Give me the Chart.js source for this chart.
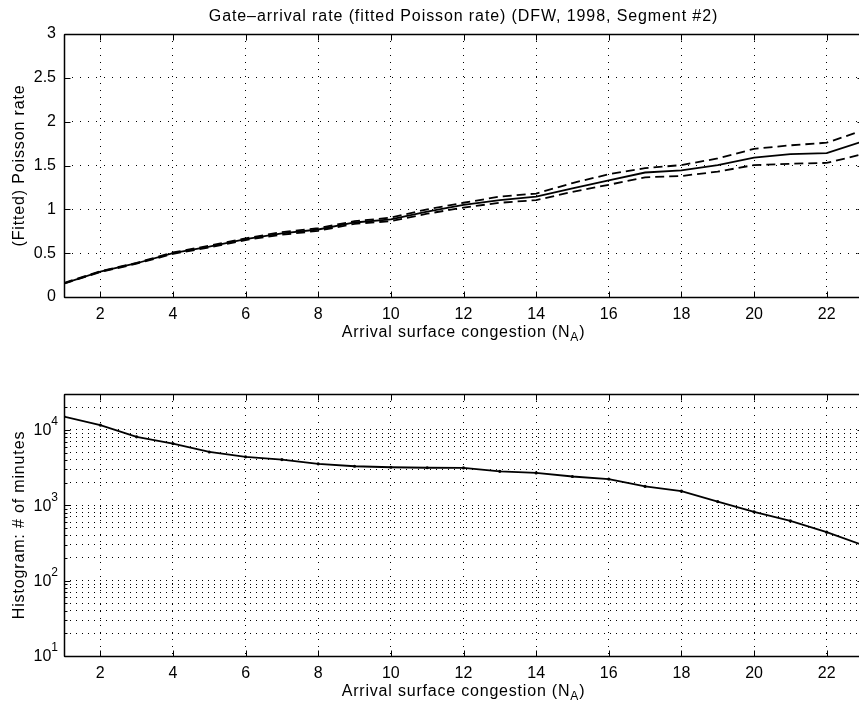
<!DOCTYPE html>
<html>
<head>
<meta charset="utf-8">
<script src="https://cdn.jsdelivr.net/npm/chart.js@4.4.1/dist/chart.umd.min.js"></script>
<style>
  html, body { margin: 0; padding: 0; background: #fff; width: 859px; height: 708px; overflow: hidden; }
  .panel { position: absolute; left: 0; width: 870px; height: 354px; }
  canvas { display: block; }
</style>
</head>
<body>
<div class="panel" style="top:0"><canvas id="rateChart" width="870" height="354"></canvas></div>
<div class="panel" style="top:354px"><canvas id="histChart" width="870" height="354"></canvas></div>
<script>
const FONT = '"Liberation Sans", Arial, Helvetica, sans-serif'

// data
const congestion = [1, 2, 3, 4, 5, 6, 7, 8, 9, 10, 11, 12, 13, 14, 15, 16, 17, 18, 19, 20, 21, 22, 23]
const fittedRate = [0.156, 0.29, 0.385, 0.50, 0.575, 0.66, 0.725, 0.77, 0.85, 0.885, 0.975, 1.05, 1.105, 1.145, 1.24, 1.33, 1.42, 1.445, 1.505, 1.59, 1.63, 1.64, 1.775]
const rateUpper = [0.16, 0.295, 0.39, 0.508, 0.585, 0.67, 0.74, 0.785, 0.865, 0.905, 1.0, 1.075, 1.145, 1.18, 1.30, 1.40, 1.47, 1.505, 1.58, 1.69, 1.73, 1.76, 1.90]
const rateLower = [0.152, 0.285, 0.38, 0.492, 0.565, 0.65, 0.71, 0.755, 0.835, 0.865, 0.95, 1.02, 1.075, 1.105, 1.20, 1.28, 1.365, 1.38, 1.43, 1.505, 1.52, 1.53, 1.63]
const minutesHist = [15000, 11600, 8100, 6600, 5100, 4400, 4050, 3550, 3300, 3200, 3150, 3130, 2820, 2690, 2410, 2230, 1780, 1540, 1120, 820, 620, 440, 295]

const xTickValues = [2, 4, 6, 8, 10, 12, 14, 16, 18, 20, 22]
const rateTickValues = [0, 0.5, 1, 1.5, 2, 2.5, 3]
const histDecades = [1, 2, 3, 4]

const titleText = 'Gate\u2013arrival rate (fitted Poisson rate) (DFW, 1998, Segment #2)'
const xLabelParts = ['Arrival surface congestion (N', 'A', ')']

const points = (ys) => congestion.map((x, i) => ({ x, y: ys[i] }))

const isDecade = (v) => Math.abs(Math.log10(v) - Math.round(Math.log10(v))) < 1e-9

function setSpacing(ctx, px) {
  if ('letterSpacing' in ctx) ctx.letterSpacing = px + 'px'
}

// MATLAB-ish box, inner ticks and labels
function matlabFrame(cfg) {
  return {
    id: 'matlabFrame',
    afterDraw(chart) {
      const { ctx, chartArea: a, scales } = chart
      ctx.save()
      ctx.strokeStyle = '#000'
      ctx.fillStyle = '#000'
      ctx.lineWidth = 1
      const L = Math.round(a.left) + 0.5
      const T = Math.round(a.top) + 0.5
      const R = Math.round(a.right) + 0.5
      const B = Math.round(a.bottom) + 0.5
      ctx.beginPath()
      ctx.rect(L, T, R - L, B - T)
      scales.x.ticks.forEach(t => {
        const px = Math.round(scales.x.getPixelForValue(t.value)) + 0.5
        ctx.moveTo(px, B); ctx.lineTo(px, B - 6)
        ctx.moveTo(px, T); ctx.lineTo(px, T + 6)
      })
      scales.y.ticks.forEach(t => {
        const py = Math.round(scales.y.getPixelForValue(t.value)) + 0.5
        const len = cfg.logY && !isDecade(t.value) ? 3 : 6
        ctx.moveTo(L, py); ctx.lineTo(L + len, py)
        ctx.moveTo(R, py); ctx.lineTo(R - len, py)
      })
      ctx.stroke()
      // heavier bottom/top rules like the scan
      ctx.lineWidth = 1.5
      ctx.beginPath()
      ctx.moveTo(L, B); ctx.lineTo(R, B)
      ctx.moveTo(L, T); ctx.lineTo(R, T)
      ctx.moveTo(L, T); ctx.lineTo(L, B)
      ctx.stroke()

      const cx = (a.left + a.right) / 2

      if (cfg.title) {
        ctx.font = '16px ' + FONT
        setSpacing(ctx, 0.9)
        ctx.textAlign = 'center'
        ctx.textBaseline = 'alphabetic'
        ctx.fillText(cfg.title, cx, cfg.titleY)
      }

      // y label
      ctx.save()
      ctx.translate(20, (a.top + a.bottom) / 2)
      ctx.rotate(-Math.PI / 2)
      ctx.font = '16px ' + FONT
      setSpacing(ctx, 0.85)
      ctx.textAlign = 'center'
      ctx.textBaseline = 'middle'
      ctx.fillText(cfg.yLabel, 0, 0)
      ctx.restore()

      // x label with subscript
      ctx.textAlign = 'left'
      ctx.textBaseline = 'alphabetic'
      setSpacing(ctx, 0.8)
      ctx.font = '16px ' + FONT
      const w0 = ctx.measureText(xLabelParts[0]).width
      const w2 = ctx.measureText(xLabelParts[2]).width
      ctx.font = '12px ' + FONT
      const w1 = ctx.measureText(xLabelParts[1]).width
      const x0 = cx - (w0 + w1 + w2) / 2
      const base = a.bottom + 40
      ctx.font = '16px ' + FONT
      ctx.fillText(xLabelParts[0], x0, base)
      ctx.font = '12px ' + FONT
      ctx.fillText(xLabelParts[1], x0 + w0, base + 4)
      ctx.font = '16px ' + FONT
      ctx.fillText(xLabelParts[2], x0 + w0 + w1, base)
      setSpacing(ctx, 0)

      // log tick labels 10^k
      if (cfg.logY) {
        histDecades.forEach(k => {
          const py = scales.y.getPixelForValue(Math.pow(10, k))
          ctx.font = '12px ' + FONT
          const ws = ctx.measureText(String(k)).width
          ctx.textAlign = 'left'
          ctx.textBaseline = 'middle'
          ctx.fillText(String(k), a.left - 6 - ws, py - 8)
          ctx.font = '16px ' + FONT
          ctx.textAlign = 'right'
          ctx.fillText('10', a.left - 6 - ws, py + 1)
        })
      }
      ctx.restore()
    }
  }
}

const xScale = {
  type: 'linear',
  min: 1,
  max: 23,
  afterBuildTicks: (s) => { s.ticks = xTickValues.map(v => ({ value: v })) },
  afterFit: (s) => { s.height = 57 },
  grid: { color: '#000', lineWidth: 1, drawTicks: false },
  border: { display: false, dash: [1, 6] },
  ticks: { color: '#000', font: { family: FONT, size: 16 }, padding: 8, maxRotation: 0, autoSkip: false, callback: (v) => String(v) }
}

const lineDefaults = { borderColor: '#000', pointRadius: 0, tension: 0, fill: false }

new Chart(document.getElementById('rateChart'), {
  type: 'line',
  data: {
    datasets: [
      { ...lineDefaults, label: 'fit', data: points(fittedRate), borderWidth: 1.8 },
      { ...lineDefaults, label: 'upper', data: points(rateUpper), borderWidth: 1.8, borderDash: [9, 5] },
      { ...lineDefaults, label: 'lower', data: points(rateLower), borderWidth: 1.8, borderDash: [9, 5] }
    ]
  },
  options: {
    responsive: false,
    animation: false,
    devicePixelRatio: 1,
    layout: { padding: { top: 34, right: 7, left: 0, bottom: 0 } },
    plugins: { legend: { display: false }, tooltip: { enabled: false }, title: { display: false } },
    scales: {
      x: { ...xScale },
      y: {
        type: 'linear',
        min: 0,
        max: 3,
        afterBuildTicks: (s) => { s.ticks = rateTickValues.map(v => ({ value: v })) },
        afterFit: (s) => { s.width = 64 },
        grid: { color: '#000', lineWidth: 1, drawTicks: false },
        border: { display: false, dash: [1, 7] },
        ticks: { color: '#000', font: { family: FONT, size: 16 }, padding: 8, callback: (v) => String(v) }
      }
    }
  },
  plugins: [matlabFrame({ title: titleText, titleY: 21, yLabel: '(Fitted) Poisson rate', logY: false })]
})

new Chart(document.getElementById('histChart'), {
  type: 'line',
  data: {
    datasets: [
      { ...lineDefaults, label: 'minutes', data: points(minutesHist), borderWidth: 1.8, pointRadius: 1.6, pointBackgroundColor: '#000', pointBorderWidth: 0 }
    ]
  },
  options: {
    responsive: false,
    animation: false,
    devicePixelRatio: 1,
    layout: { padding: { top: 40, right: 7, left: 0, bottom: 0 } },
    plugins: { legend: { display: false }, tooltip: { enabled: false }, title: { display: false } },
    scales: {
      x: { ...xScale, afterFit: (s) => { s.height = 52 } },
      y: {
        type: 'logarithmic',
        min: 10,
        max: 30000,
        afterBuildTicks: (s) => {
          const t = []
          histDecades.forEach(k => {
            for (let m = 1; m <= 9; m++) {
              const v = m * Math.pow(10, k)
              if (v <= 30000) t.push({ value: v })
            }
          })
          s.ticks = t
        },
        afterFit: (s) => { s.width = 64 },
        grid: { color: '#000', lineWidth: 1, drawTicks: false },
        border: { display: false, dash: [1, 5] },
        ticks: { display: false, autoSkip: false }
      }
    }
  },
  plugins: [matlabFrame({ yLabel: 'Histogram: # of minutes', logY: true })]
})
</script>
</body>
</html>
